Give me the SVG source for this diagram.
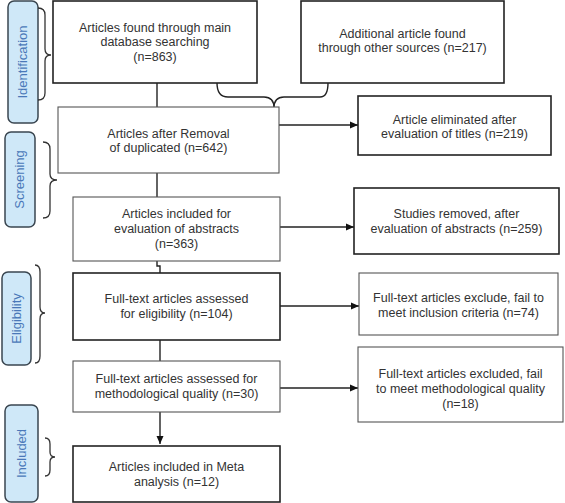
<svg xmlns="http://www.w3.org/2000/svg" width="565" height="503" viewBox="0 0 565 503">
<style>
.box{fill:#fff;stroke:#222;stroke-width:1.6}
.lbox{fill:#fff;stroke:#555;stroke-width:1.1}
.t{font-family:"Liberation Sans",Arial,sans-serif;font-size:12.5px;fill:#333;text-anchor:middle}
.stage{fill:#cfe8f8;stroke:#3a4650;stroke-width:1.5}
.st{font-family:"Liberation Sans",Arial,sans-serif;font-size:13px;fill:#4a78b8;text-anchor:middle}
.br{fill:none;stroke:#333;stroke-width:1.3}
.ln{fill:none;stroke:#222;stroke-width:1.4}
</style>
<defs>
<marker id="ah" markerWidth="8" markerHeight="8" refX="8" refY="4" orient="auto" markerUnits="userSpaceOnUse">
<path d="M0,0.5 L8,4 L0,7.5 Z" fill="#111"/>
</marker>
</defs>
<rect width="565" height="503" fill="#fff"/>

<g id="stage-identification">
<rect class="stage" x="8" y="1" width="30" height="122" rx="6"/>
<text class="st" transform="translate(27,62) rotate(-90)">Identification</text>
<path class="br" d="M38,8 Q45,8 45,15 L45,49 Q45,55 51,55 Q45,55 45,61 L45,93 Q45,100 38,100"/>
</g>
<g id="stage-screening">
<rect class="stage" x="5" y="132" width="30" height="95" rx="6"/>
<text class="st" transform="translate(24,179.5) rotate(-90)">Screening</text>
<path class="br" d="M43,142 Q50,142 50,149 L50,174 Q50,180 57,180 Q50,180 50,186 L50,211 Q50,218 43,218"/>
</g>
<g id="stage-eligibility">
<rect class="stage" x="2" y="272" width="29" height="93" rx="6"/>
<text class="st" transform="translate(21,318.5) rotate(-90)">Eligibility</text>
<path class="br" d="M35,265 Q40,265 40,272 L40,307 Q40,313 45,313 Q40,313 40,319 L40,356 Q40,363 35,363"/>
</g>
<g id="stage-included">
<rect class="stage" x="5" y="405" width="33" height="97" rx="6"/>
<text class="st" transform="translate(26,453.5) rotate(-90)">Included</text>
<path class="br" d="M45,438 Q50,438 50,444 L50,452 Q50,457 55,457 Q50,457 50,462 L50,470 Q50,476 45,476"/>
</g>

<g id="connectors">
<path class="ln" d="M157,83 L157,107"/>
<path class="ln" d="M217,83 Q217,97 228,97 L264,97 Q274,97 274,108 Q274,97 284,97 L320,97 Q328,97 328,83"/>
<path class="ln" d="M279,125 L358,125" marker-end="url(#ah)"/>
<path class="ln" d="M157,173 L157,197"/>
<path class="ln" d="M280,227 L354,227" marker-end="url(#ah)"/>
<path class="ln" d="M157,261 L157,266 L160,266 L160,273"/>
<path class="ln" d="M280,306 L359,306" marker-end="url(#ah)"/>
<path class="ln" d="M160,340 L160,361"/>
<path class="ln" d="M280,388 L358,388" marker-end="url(#ah)"/>
<path class="ln" d="M160,412 L160,444" marker-end="url(#ah)"/>
</g>

<g id="n1"><rect class="box" x="53" y="1" width="204" height="82"/>
<text class="t" x="155" y="31.5">Articles found through main</text>
<text class="t" x="155" y="46">database searching</text>
<text class="t" x="155" y="60.5">(n=863)</text></g>

<g id="n2"><rect class="box" x="301" y="1" width="203" height="82"/>
<text class="t" x="402.5" y="37.5">Additional article found</text>
<text class="t" x="402.5" y="52">through other sources (n=217)</text></g>

<g id="n3"><rect class="lbox" x="58" y="107" width="221" height="66"/>
<text class="t" x="168.5" y="137.5">Articles after Removal</text>
<text class="t" x="168.5" y="152">of duplicated (n=642)</text></g>

<g id="n4"><rect class="box" x="358" y="96" width="193" height="59"/>
<text class="t" x="454.5" y="123.5">Article eliminated after</text>
<text class="t" x="454.5" y="138">evaluation of titles (n=219)</text></g>

<g id="n5"><rect class="lbox" x="73" y="197" width="207" height="64"/>
<text class="t" x="176.5" y="217.5">Articles included for</text>
<text class="t" x="176.5" y="232.5">evaluation of abstracts</text>
<text class="t" x="176.5" y="247.5">(n=363)</text></g>

<g id="n6"><rect class="box" x="354" y="188" width="205" height="66"/>
<text class="t" x="456.5" y="217.5">Studies removed, after</text>
<text class="t" x="456.5" y="232.5">evaluation of abstracts (n=259)</text></g>

<g id="n7"><rect class="box" x="73" y="273" width="207" height="67"/>
<text class="t" x="176.5" y="302.5">Full-text articles assessed</text>
<text class="t" x="176.5" y="317.5">for eligibility (n=104)</text></g>

<g id="n8"><rect class="lbox" x="359" y="273" width="199" height="62"/>
<text class="t" x="458.5" y="301.5">Full-text articles exclude, fail to</text>
<text class="t" x="458.5" y="316.5">meet inclusion criteria (n=74)</text></g>

<g id="n9"><rect class="lbox" x="73" y="361" width="207" height="51"/>
<text class="t" x="176.5" y="383">Full-text articles assessed for</text>
<text class="t" x="176.5" y="398">methodological quality (n=30)</text></g>

<g id="n10"><rect class="lbox" x="358" y="347" width="205" height="75"/>
<text class="t" x="460.5" y="378">Full-text articles excluded, fail</text>
<text class="t" x="460.5" y="393">to meet methodological quality</text>
<text class="t" x="460.5" y="408">(n=18)</text></g>

<g id="n11"><rect class="box" x="73" y="446" width="207" height="56"/>
<text class="t" x="176.5" y="470.5">Articles included in Meta</text>
<text class="t" x="176.5" y="485.5">analysis (n=12)</text></g>
</svg>
